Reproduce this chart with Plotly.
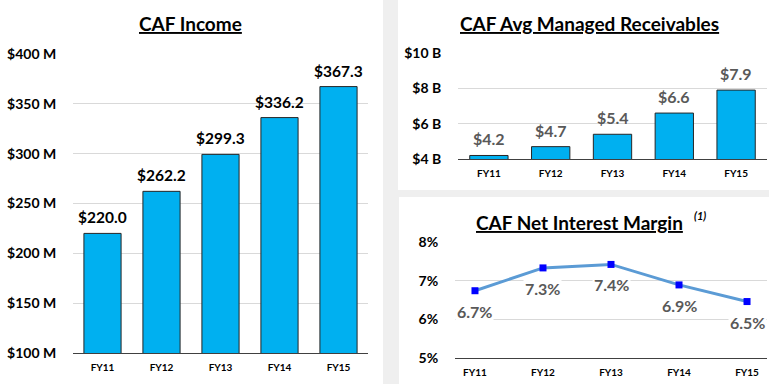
import plotly.graph_objects as go

W, H = 769, 384

years = ["FY11", "FY12", "FY13", "FY14", "FY15"]
income = [220.0, 262.2, 299.3, 336.2, 367.3]
receivables = [4.2, 4.7, 5.4, 6.6, 7.9]
nim = [6.74, 7.33, 7.42, 6.89, 6.46]

income_ticks = [100, 150, 200, 250, 300, 350, 400]
recv_ticks = [4, 6, 8, 10]
nim_ticks = [5, 6, 7, 8]

FONT = "Lato"
BAR = "#00B0F0"
GRID = "#D9D9D9"
GRAYTXT = "#595959"

def px_x(p):
    return p / W

def px_y(p):
    return 1 - p / H

fig = go.Figure()

fig.add_trace(go.Bar(x=years, y=income, xaxis="x", yaxis="y",
                     marker=dict(color=BAR, line=dict(color="#262626", width=1)),
                     width=0.63, hoverinfo="skip"))
fig.add_trace(go.Bar(x=years, y=receivables, xaxis="x2", yaxis="y2",
                     marker=dict(color=BAR, line=dict(color="#262626", width=1)),
                     width=0.62, hoverinfo="skip"))
fig.add_trace(go.Scatter(x=years, y=nim, xaxis="x3", yaxis="y3", mode="lines+markers",
                         line=dict(color="#5B9BD5", width=3),
                         marker=dict(symbol="square", size=7, color="#0000FF"),
                         hoverinfo="skip", cliponaxis=False))

ann = []
for c, v in zip(years, income):
    ann.append(dict(x=c, y=v, xref="x", yref="y", text=f"${v:.1f}", showarrow=False,
                    yanchor="bottom", yshift=5, font=dict(family=FONT, size=15.5, color="#000000", weight="bold")))
for c, v in zip(years, receivables):
    ann.append(dict(x=c, y=v, xref="x2", yref="y2", text=f"${v:.1f}", showarrow=False,
                    yanchor="bottom", yshift=5, font=dict(family=FONT, size=16, color=GRAYTXT, weight="bold")))
for c, v in zip(years, nim):
    ann.append(dict(x=c, y=v, xref="x3", yref="y3", text=f"{v:.1f}%", showarrow=False,
                    yanchor="top", yshift=-9, bgcolor="white", borderpad=1,
                    font=dict(family=FONT, size=16, color=GRAYTXT, weight="bold")))

titles = [
    ("<u>CAF Income</u>", 190, 23),
    ("<u>CAF Avg Managed Receivables</u>", 589, 23),
    ("<u>CAF Net Interest Margin</u>", 579, 222),
]
for t, x, y in titles:
    ann.append(dict(x=px_x(x), y=px_y(y), xref="paper", yref="paper", text=t, showarrow=False,
                    xanchor="center", yanchor="middle",
                    font=dict(family=FONT, size=19, color="#000000", weight="bold")))
ann.append(dict(x=px_x(700), y=px_y(215), xref="paper", yref="paper", text="<i>(1)</i>", showarrow=False,
                xanchor="center", yanchor="middle",
                font=dict(family=FONT, size=11, color="#000000", weight="bold")))

shapes = [
    dict(type="rect", xref="paper", yref="paper", x0=0, x1=px_x(383), y0=0, y1=1,
         fillcolor="white", line=dict(width=0), layer="below"),
    dict(type="rect", xref="paper", yref="paper", x0=px_x(398), x1=1, y0=px_y(190), y1=1,
         fillcolor="white", line=dict(width=0), layer="below"),
    dict(type="rect", xref="paper", yref="paper", x0=px_x(399), x1=1, y0=0, y1=px_y(197),
         fillcolor="white", line=dict(width=0), layer="below"),
]

tickfont_y = dict(family=FONT, size=14, color="#000000", weight="bold")
tickfont_x = dict(family=FONT, size=10, color="#000000", weight="bold")

def xax(domain, anchor):
    return dict(domain=domain, anchor=anchor, type="category", showgrid=False,
                showline=True, linecolor="#404040", linewidth=1.2,
                ticks="outside", ticklen=5, tickcolor="rgba(0,0,0,0)",
                tickfont=tickfont_x, fixedrange=True, automargin=False)

def yax(domain, anchor, rng, tv, tt):
    return dict(domain=domain, anchor=anchor, range=rng, tickvals=tv, ticktext=tt,
                showgrid=True, gridcolor=GRID, gridwidth=1, zeroline=False, showline=False,
                ticks="outside", ticklen=13, tickcolor="rgba(0,0,0,0)",
                tickfont=tickfont_y, fixedrange=True, automargin=False)

fig.update_layout(
    width=W, height=H,
    margin=dict(l=0, r=0, t=0, b=0, pad=0, autoexpand=False),
    paper_bgcolor="#EFEFEF",
    plot_bgcolor="rgba(0,0,0,0)",
    showlegend=False,
    bargap=0.37,
    hovermode=False,
    xaxis=xax([px_x(73), px_x(368)], "y"),
    yaxis=yax([1 - 353 / H, 1 - 54 / H], "x", [100, 400], income_ticks,
              [f"${t} M" for t in income_ticks]),
    xaxis2=xax([px_x(458), px_x(767)], "y2"),
    yaxis2=yax([1 - 159 / H, 1 - 53 / H], "x2", [4, 10], recv_ticks,
               [f"${t} B" for t in recv_ticks]),
    xaxis3=xax([px_x(455), px_x(767)], "y3"),
    yaxis3=yax([1 - 358 / H, 1 - 242 / H], "x3", [5, 8], nim_ticks,
               [f"{t}%" for t in nim_ticks]),
    annotations=ann,
    shapes=shapes,
)

fig.write_html("out.html", config={"displayModeBar": False, "staticPlot": True},
               post_script="document.body.style.margin='0';document.body.style.overflow='hidden';")
